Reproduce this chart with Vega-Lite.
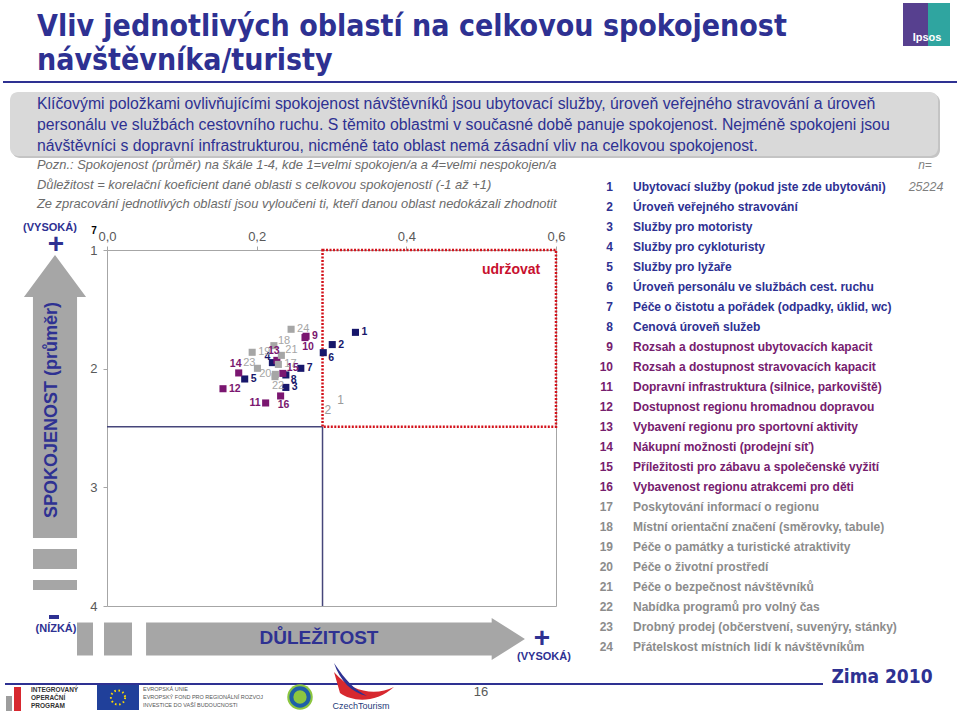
{
  "$schema": "https://vega.github.io/schema/vega-lite/v6.json",
  "width": 449,
  "height": 356,
  "autosize": {"type": "none"},
  "padding": {"left": 107, "top": 250, "right": 404, "bottom": 105},
  "background": "#ffffff",
  "config": {
    "view": {"stroke": "#a6a6a6", "strokeWidth": 1},
    "font": "Liberation Sans",
    "axis": {"grid": false, "domain": false, "tickColor": "#a6a6a6", "tickSize": 4, "labelColor": "#595959", "labelFontSize": 13, "labelFont": "Liberation Sans"}
  },
  "datasets": {
    "blank": [{}],
    "items": [
      {"id": 1, "grp": "A", "imp": 0.332, "sat": 1.694, "pos": "r", "name": "Ubytovací služby (pokud jste zde ubytováni)"},
      {"id": 2, "grp": "A", "imp": 0.301, "sat": 1.797, "pos": "r", "name": "Úroveň veřejného stravování"},
      {"id": 3, "grp": "A", "imp": 0.239, "sat": 2.158, "pos": "r", "name": "Služby pro motoristy"},
      {"id": 4, "grp": "A", "imp": 0.221, "sat": 1.949, "pos": "ul", "name": "Služby pro cykloturisty"},
      {"id": 5, "grp": "A", "imp": 0.184, "sat": 2.087, "pos": "r", "name": "Služby pro lyžaře"},
      {"id": 6, "grp": "A", "imp": 0.289, "sat": 1.865, "pos": "rd", "name": "Úroveň personálu ve službách cest. ruchu"},
      {"id": 7, "grp": "A", "imp": 0.259, "sat": 1.997, "pos": "r", "name": "Péče o čistotu a pořádek (odpadky, úklid, wc)"},
      {"id": 8, "grp": "A", "imp": 0.239, "sat": 2.053, "pos": "rd", "name": "Cenová úroveň služeb"},
      {"id": 9, "grp": "B", "imp": 0.266, "sat": 1.727, "pos": "r", "name": "Rozsah a dostupnost ubytovacích kapacit"},
      {"id": 10, "grp": "B", "imp": 0.2646, "sat": 1.738, "pos": "d", "name": "Rozsah a dostupnost stravovacích kapacit"},
      {"id": 11, "grp": "B", "imp": 0.212, "sat": 2.289, "pos": "l", "name": "Dopravní infrastruktura (silnice, parkoviště)"},
      {"id": 12, "grp": "B", "imp": 0.155, "sat": 2.169, "pos": "r", "name": "Dostupnost regionu hromadnou dopravou"},
      {"id": 13, "grp": "B", "imp": 0.227, "sat": 1.930, "pos": "u", "name": "Vybavení regionu pro sportovní aktivity"},
      {"id": 14, "grp": "B", "imp": 0.176, "sat": 2.036, "pos": "u", "name": "Nákupní možnosti (prodejní síť)"},
      {"id": 15, "grp": "B", "imp": 0.235, "sat": 2.040, "pos": "ru", "name": "Příležitosti pro zábavu a společenské vyžití"},
      {"id": 16, "grp": "B", "imp": 0.232, "sat": 2.230, "pos": "d", "name": "Vybavenost regionu atrakcemi pro děti"},
      {"id": 17, "grp": "C", "imp": 0.229, "sat": 1.964, "pos": "r", "name": "Poskytování informací o regionu"},
      {"id": 18, "grp": "C", "imp": 0.223, "sat": 1.806, "pos": "ru", "name": "Místní orientační značení (směrovky, tabule)"},
      {"id": 19, "grp": "C", "imp": 0.194, "sat": 1.862, "pos": "r", "name": "Péče o památky a turistické atraktivity"},
      {"id": 20, "grp": "C", "imp": 0.225, "sat": 2.048, "pos": "l", "name": "Péče o životní prostředí"},
      {"id": 21, "grp": "C", "imp": 0.233, "sat": 1.888, "pos": "ru", "name": "Péče o bezpečnost návštěvníků"},
      {"id": 22, "grp": "C", "imp": 0.2245, "sat": 2.067, "pos": "d", "name": "Nabídka programů pro volný čas"},
      {"id": 23, "grp": "C", "imp": 0.201, "sat": 1.997, "pos": "ul", "name": "Drobný prodej (občerstvení, suvenýry, stánky)"},
      {"id": 24, "grp": "C", "imp": 0.246, "sat": 1.668, "pos": "r", "name": "Přátelskost místních lidí k návštěvníkům"}
    ],
    "extra": [
      {"t": "1", "imp": 0.312, "sat": 2.264},
      {"t": "2", "imp": 0.295, "sat": 2.352}
    ]
  },
  "layer": [
    {"data": {"name": "blank"}, "mark": {"type": "text", "text": ["Vliv jednotlivých oblastí na celkovou spokojenost", "návštěvníka/turisty"], "align": "left", "baseline": "top", "font": "DejaVu Sans Condensed, Liberation Sans", "fontWeight": "bold", "fontSize": 30, "lineHeight": 34, "color": "#2e3192"}, "encoding": {"x": {"value": -70}, "y": {"value": -238}}},
    {"data": {"name": "blank"}, "mark": {"type": "rule", "color": "#2e3192", "strokeWidth": 2}, "encoding": {"x": {"value": -104}, "x2": {"value": 850}, "y": {"value": -168}}},
    {"data": {"name": "blank"}, "mark": {"type": "rect", "color": "#57408f"}, "encoding": {"x": {"value": 796}, "x2": {"value": 821}, "y": {"value": -247}, "y2": {"value": -204}}},
    {"data": {"name": "blank"}, "mark": {"type": "rect", "color": "#2fa5a0"}, "encoding": {"x": {"value": 821}, "x2": {"value": 843}, "y": {"value": -247}, "y2": {"value": -204}}},
    {"data": {"name": "blank"}, "mark": {"type": "text", "text": "Ipsos", "color": "#ffffff", "fontWeight": "bold", "fontSize": 11, "align": "center", "baseline": "middle"}, "encoding": {"x": {"value": 820}, "y": {"value": -212}}},
    {"data": {"name": "blank"}, "mark": {"type": "rect", "color": "#c4c4c4", "cornerRadius": 8}, "encoding": {"x": {"value": -95}, "x2": {"value": 833}, "y": {"value": -156}, "y2": {"value": -92}}},
    {"data": {"name": "blank"}, "mark": {"type": "rect", "color": "#d9d9d9", "cornerRadius": 8}, "encoding": {"x": {"value": -97}, "x2": {"value": 831}, "y": {"value": -158}, "y2": {"value": -94}}},
    {"data": {"name": "blank"}, "mark": {"type": "text", "text": ["Klíčovými položkami ovlivňujícími spokojenost návštěvníků jsou ubytovací služby, úroveň veřejného stravování a úroveň", "personálu ve službách cestovního ruchu. S těmito oblastmi v současné době panuje spokojenost. Nejméně spokojeni jsou", "návštěvníci s dopravní infrastrukturou, nicméně tato oblast nemá zásadní vliv na celkovou spokojenost."], "align": "left", "baseline": "top", "fontSize": 15.8, "lineHeight": 21, "color": "#2e3192"}, "encoding": {"x": {"value": -70}, "y": {"value": -153.5}}},
    {"data": {"name": "blank"}, "mark": {"type": "text", "text": ["Pozn.: Spokojenost (průměr) na škále 1-4, kde 1=velmi spokojen/a a 4=velmi nespokojen/a", "Důležitost = korelační koeficient dané oblasti s celkovou spokojeností (-1 až +1)", "Ze zpracování jednotlivých oblastí jsou vyloučeni ti, kteří danou oblast nedokázali zhodnotit"], "align": "left", "baseline": "top", "fontSize": 12.9, "lineHeight": 19.5, "fontStyle": "italic", "color": "#6b6b6b"}, "encoding": {"x": {"value": -70}, "y": {"value": -91}}},
    {"data": {"name": "blank"}, "mark": {"type": "text", "text": "n=", "align": "center", "baseline": "middle", "fontSize": 12, "fontStyle": "italic", "color": "#7f7f7f"}, "encoding": {"x": {"value": 818}, "y": {"value": -85}}},
    {"data": {"name": "blank"}, "mark": {"type": "text", "text": "25224", "align": "center", "baseline": "middle", "fontSize": 12.5, "fontStyle": "italic", "color": "#7f7f7f"}, "encoding": {"x": {"value": 819}, "y": {"value": -63}}},
    {"data": {"name": "blank"}, "mark": {"type": "point", "shape": "M0,-0.943 L0.207,-0.663 L0.147,-0.663 L0.147,0.943 L-0.147,0.943 L-0.147,-0.663 L-0.207,-0.663 Z", "size": 90000, "filled": true, "opacity": 1, "color": "#a6a6a6"}, "encoding": {"x": {"value": -52}, "y": {"value": 146.5}}},
    {"data": {"name": "blank"}, "mark": {"type": "rect", "color": "#a6a6a6"}, "encoding": {"x": {"value": -74}, "x2": {"value": -30}, "y": {"value": 299}, "y2": {"value": 319}}},
    {"data": {"name": "blank"}, "mark": {"type": "rect", "color": "#a6a6a6"}, "encoding": {"x": {"value": -74}, "x2": {"value": -30}, "y": {"value": 330}, "y2": {"value": 340}}},
    {"data": {"name": "blank"}, "mark": {"type": "point", "shape": "M0.997,0 L0.822,-0.111 L0.822,-0.087 L-0.997,-0.087 L-0.997,0.087 L0.822,0.087 L0.822,0.111 Z", "size": 144400, "filled": true, "opacity": 1, "color": "#a6a6a6"}, "encoding": {"x": {"value": 228.5}, "y": {"value": 389}}},
    {"data": {"name": "blank"}, "mark": {"type": "rect", "color": "#a6a6a6"}, "encoding": {"x": {"value": -30}, "x2": {"value": -14}, "y": {"value": 372.5}, "y2": {"value": 405.5}}},
    {"data": {"name": "blank"}, "mark": {"type": "rect", "color": "#a6a6a6"}, "encoding": {"x": {"value": -3}, "x2": {"value": 25}, "y": {"value": 372.5}, "y2": {"value": 405.5}}},
    {"data": {"name": "blank"}, "mark": {"type": "text", "text": "(VYSOKÁ)", "align": "center", "baseline": "middle", "fontSize": 11, "fontWeight": "bold", "color": "#2e3192"}, "encoding": {"x": {"value": -57}, "y": {"value": -22}}},
    {"data": {"name": "blank"}, "mark": {"type": "text", "text": "+", "align": "center", "baseline": "middle", "fontSize": 28, "fontWeight": "bold", "color": "#2e3192"}, "encoding": {"x": {"value": -51}, "y": {"value": -5}}},
    {"data": {"name": "blank"}, "mark": {"type": "text", "text": "SPOKOJENOST (průměr)", "align": "center", "baseline": "middle", "angle": 270, "fontSize": 18, "fontWeight": "bold", "color": "#2e3192"}, "encoding": {"x": {"value": -55}, "y": {"value": 160}}},
    {"data": {"name": "blank"}, "mark": {"type": "rect", "color": "#2e3192"}, "encoding": {"x": {"value": -58}, "x2": {"value": -48}, "y": {"value": 365}, "y2": {"value": 369}}},
    {"data": {"name": "blank"}, "mark": {"type": "text", "text": "(NÍZKÁ)", "align": "center", "baseline": "middle", "fontSize": 11, "fontWeight": "bold", "color": "#2e3192"}, "encoding": {"x": {"value": -51}, "y": {"value": 379}}},
    {"data": {"name": "blank"}, "mark": {"type": "text", "text": "DŮLEŽITOST", "align": "center", "baseline": "middle", "fontSize": 19, "fontWeight": "bold", "color": "#2e3192"}, "encoding": {"x": {"value": 212}, "y": {"value": 388}}},
    {"data": {"name": "blank"}, "mark": {"type": "text", "text": "+", "align": "center", "baseline": "middle", "fontSize": 28, "fontWeight": "bold", "color": "#2e3192"}, "encoding": {"x": {"value": 435}, "y": {"value": 389}}},
    {"data": {"name": "blank"}, "mark": {"type": "text", "text": "(VYSOKÁ)", "align": "center", "baseline": "middle", "fontSize": 11, "fontWeight": "bold", "color": "#2e3192"}, "encoding": {"x": {"value": 437}, "y": {"value": 407}}},
    {"data": {"name": "blank"}, "mark": {"type": "text", "text": "7", "align": "center", "baseline": "middle", "fontSize": 10, "fontWeight": "bold", "color": "#000000"}, "encoding": {"x": {"value": -13}, "y": {"value": -19}}},
    {"data": {"name": "blank"}, "mark": {"type": "rule", "color": "#2e3192", "strokeWidth": 2}, "encoding": {"x": {"value": -102}, "x2": {"value": 716}, "y": {"value": 434}}},
    {"data": {"name": "blank"}, "mark": {"type": "text", "text": "Zima 2010", "align": "center", "baseline": "middle", "font": "DejaVu Sans Condensed, Liberation Sans", "fontSize": 19, "fontWeight": "bold", "color": "#2e3192"}, "encoding": {"x": {"value": 775}, "y": {"value": 427}}},
    {"data": {"name": "blank"}, "mark": {"type": "text", "text": "16", "align": "center", "baseline": "middle", "fontSize": 13, "color": "#595959"}, "encoding": {"x": {"value": 374}, "y": {"value": 442}}},
    {"data": {"name": "blank"}, "mark": {"type": "rect", "color": "#9d9d9d"}, "encoding": {"x": {"value": -101}, "x2": {"value": -95}, "y": {"value": 446}, "y2": {"value": 461}}},
    {"data": {"name": "blank"}, "mark": {"type": "rect", "color": "#d7282f"}, "encoding": {"x": {"value": -93}, "x2": {"value": -86}, "y": {"value": 437}, "y2": {"value": 461}}},
    {"data": {"name": "blank"}, "mark": {"type": "text", "text": ["INTEGROVANÝ", "OPERAČNÍ", "PROGRAM"], "align": "left", "baseline": "top", "fontSize": 6.5, "lineHeight": 8, "fontWeight": "bold", "color": "#333333"}, "encoding": {"x": {"value": -76}, "y": {"value": 437}}},
    {"data": {"name": "blank"}, "mark": {"type": "rect", "color": "#20409a"}, "encoding": {"x": {"value": -10}, "x2": {"value": 32}, "y": {"value": 435}, "y2": {"value": 460}}},
    {"data": {"name": "blank"}, "mark": {"type": "point", "shape": "circle", "filled": false, "size": 200, "stroke": "#ffdd00", "strokeWidth": 2, "strokeDash": [1.5, 2.7], "opacity": 1}, "encoding": {"x": {"value": 11}, "y": {"value": 447.5}}},
    {"data": {"name": "blank"}, "mark": {"type": "text", "text": ["EVROPSKÁ UNIE", "EVROPSKÝ FOND PRO REGIONÁLNÍ ROZVOJ", "INVESTICE DO VAŠÍ BUDOUCNOSTI"], "align": "left", "baseline": "top", "fontSize": 5.5, "lineHeight": 8, "color": "#555555"}, "encoding": {"x": {"value": 36}, "y": {"value": 437}}},
    {"data": {"name": "blank"}, "mark": {"type": "point", "shape": "circle", "filled": true, "size": 650, "color": "#8cc63f", "opacity": 1}, "encoding": {"x": {"value": 193}, "y": {"value": 447}}},
    {"data": {"name": "blank"}, "mark": {"type": "point", "shape": "circle", "filled": false, "size": 300, "stroke": "#1f5fa8", "strokeWidth": 4, "opacity": 1}, "encoding": {"x": {"value": 193}, "y": {"value": 447}}},
    {"data": {"name": "blank"}, "mark": {"type": "point", "shape": "M-1,-0.6 C-0.4,0.1 0.4,0.2 1,-0.1 C0.4,0.45 -0.4,0.4 -0.8,0.1 Z", "size": 3600, "filled": true, "color": "#d7282f", "opacity": 1}, "encoding": {"x": {"value": 257}, "y": {"value": 440}}},
    {"data": {"name": "blank"}, "mark": {"type": "point", "shape": "M-1,-0.9 C-0.6,-0.3 -0.3,0 0.1,0.2 C-0.4,0.1 -0.8,-0.3 -1,-0.9 Z", "size": 3600, "filled": true, "color": "#2e3192", "opacity": 1}, "encoding": {"x": {"value": 257}, "y": {"value": 440}}},
    {"data": {"name": "blank"}, "mark": {"type": "text", "text": "CzechTourism", "align": "center", "baseline": "middle", "fontSize": 9, "color": "#1f3a7a"}, "encoding": {"x": {"value": 254}, "y": {"value": 456}}},
    {
      "layer": [
        {"data": {"name": "blank"}, "mark": {"type": "rule", "color": "#46467a", "strokeWidth": 1.5}, "encoding": {"x": {"datum": 0}, "x2": {"datum": 0.288}, "y": {"datum": 2.49}}},
        {"data": {"name": "blank"}, "mark": {"type": "rule", "color": "#46467a", "strokeWidth": 1.5}, "encoding": {"x": {"datum": 0.288}, "y": {"datum": 2.49}, "y2": {"datum": 4}}},
        {"data": {"name": "blank"}, "mark": {"type": "rect", "fillOpacity": 0, "stroke": "#d3121b", "strokeWidth": 2.5, "strokeDash": [2, 1.5]}, "encoding": {"x": {"datum": 0.288}, "x2": {"datum": 0.6}, "y": {"datum": 1}, "y2": {"datum": 2.49}}},
        {"data": {"name": "blank"}, "mark": {"type": "text", "text": "udržovat", "align": "center", "baseline": "middle", "color": "#c8102e", "fontWeight": "bold", "fontSize": 14}, "encoding": {"x": {"datum": 0.54}, "y": {"datum": 1.165}}},
        {
          "data": {"name": "items"},
          "encoding": {
            "x": {"field": "imp", "type": "quantitative", "scale": {"domain": [0, 0.6], "nice": false, "zero": false}, "axis": {"orient": "top", "values": [0, 0.2, 0.4, 0.6], "labelExpr": "replace(format(datum.value, '.1f'), '.', ',')", "labelPadding": 3, "labelFlush": false, "title": null}},
            "y": {"field": "sat", "type": "quantitative", "scale": {"domain": [1, 4], "nice": false, "zero": false, "reverse": true}, "axis": {"values": [1, 2, 3, 4], "format": "d", "labelPadding": 6, "title": null}},
            "color": {"field": "grp", "type": "nominal", "scale": {"domain": ["A", "B", "C"], "range": ["#17176b", "#7a1670", "#a6a6a6"]}, "legend": null}
          },
          "layer": [
            {"mark": {"type": "point", "shape": "square", "filled": true, "size": 50, "opacity": 1}},
            {"transform": [{"filter": "datum.pos == 'r' && datum.grp != 'C'"}], "mark": {"type": "text", "align": "left", "baseline": "middle", "dx": 6, "dy": 0, "fontSize": 10.5, "fontWeight": "bold"}, "encoding": {"text": {"field": "id", "type": "nominal"}}},
            {"transform": [{"filter": "datum.pos == 'ru' && datum.grp != 'C'"}], "mark": {"type": "text", "align": "left", "baseline": "middle", "dx": 4, "dy": -5, "fontSize": 10.5, "fontWeight": "bold"}, "encoding": {"text": {"field": "id", "type": "nominal"}}},
            {"transform": [{"filter": "datum.pos == 'rd' && datum.grp != 'C'"}], "mark": {"type": "text", "align": "left", "baseline": "middle", "dx": 5, "dy": 5, "fontSize": 10.5, "fontWeight": "bold"}, "encoding": {"text": {"field": "id", "type": "nominal"}}},
            {"transform": [{"filter": "datum.pos == 'l' && datum.grp != 'C'"}], "mark": {"type": "text", "align": "right", "baseline": "middle", "dx": -5, "dy": 0, "fontSize": 10.5, "fontWeight": "bold"}, "encoding": {"text": {"field": "id", "type": "nominal"}}},
            {"transform": [{"filter": "datum.pos == 'ul' && datum.grp != 'C'"}], "mark": {"type": "text", "align": "right", "baseline": "middle", "dx": -2, "dy": -6, "fontSize": 10.5, "fontWeight": "bold"}, "encoding": {"text": {"field": "id", "type": "nominal"}}},
            {"transform": [{"filter": "datum.pos == 'u' && datum.grp != 'C'"}], "mark": {"type": "text", "align": "center", "baseline": "middle", "dx": -3, "dy": -9, "fontSize": 10.5, "fontWeight": "bold"}, "encoding": {"text": {"field": "id", "type": "nominal"}}},
            {"transform": [{"filter": "datum.pos == 'd' && datum.grp != 'C'"}], "mark": {"type": "text", "align": "center", "baseline": "middle", "dx": 3, "dy": 9, "fontSize": 10.5, "fontWeight": "bold"}, "encoding": {"text": {"field": "id", "type": "nominal"}}},
            {"transform": [{"filter": "datum.pos == 'r' && datum.grp == 'C'"}], "mark": {"type": "text", "align": "left", "baseline": "middle", "dx": 6, "dy": 0, "fontSize": 11}, "encoding": {"text": {"field": "id", "type": "nominal"}}},
            {"transform": [{"filter": "datum.pos == 'ru' && datum.grp == 'C'"}], "mark": {"type": "text", "align": "left", "baseline": "middle", "dx": 4, "dy": -5, "fontSize": 11}, "encoding": {"text": {"field": "id", "type": "nominal"}}},
            {"transform": [{"filter": "datum.pos == 'l' && datum.grp == 'C'"}], "mark": {"type": "text", "align": "right", "baseline": "middle", "dx": -4, "dy": 0, "fontSize": 11}, "encoding": {"text": {"field": "id", "type": "nominal"}}},
            {"transform": [{"filter": "datum.pos == 'ul' && datum.grp == 'C'"}], "mark": {"type": "text", "align": "right", "baseline": "middle", "dx": -2, "dy": -5, "fontSize": 11}, "encoding": {"text": {"field": "id", "type": "nominal"}}},
            {"transform": [{"filter": "datum.pos == 'd' && datum.grp == 'C'"}], "mark": {"type": "text", "align": "center", "baseline": "middle", "dx": 3, "dy": 9, "fontSize": 11}, "encoding": {"text": {"field": "id", "type": "nominal"}}}
          ]
        },
        {"data": {"name": "extra"}, "mark": {"type": "text", "align": "center", "baseline": "middle", "fontSize": 12, "color": "#9a9a9a"}, "encoding": {"x": {"field": "imp", "type": "quantitative"}, "y": {"field": "sat", "type": "quantitative"}, "text": {"field": "t", "type": "nominal"}}}
      ]
    },
    {
      "data": {"name": "items"},
      "encoding": {
        "y": {"field": "id", "type": "quantitative", "scale": {"domain": [4.15, 21.95], "reverse": true, "nice": false, "zero": false}, "axis": null},
        "color": {"field": "grp", "type": "nominal", "scale": {"domain": ["A", "B", "C"], "range": ["#2e3192", "#76206e", "#8c8c8c"]}, "legend": null}
      },
      "layer": [
        {"mark": {"type": "text", "align": "right", "baseline": "middle", "fontSize": 12, "fontWeight": "bold"}, "encoding": {"x": {"value": 506}, "text": {"field": "id", "type": "nominal"}}},
        {"mark": {"type": "text", "align": "left", "baseline": "middle", "fontSize": 12, "fontWeight": "bold"}, "encoding": {"x": {"value": 526}, "text": {"field": "name", "type": "nominal"}}}
      ]
    }
  ],
  "resolve": {"scale": {"y": "independent", "color": "independent"}}
}
